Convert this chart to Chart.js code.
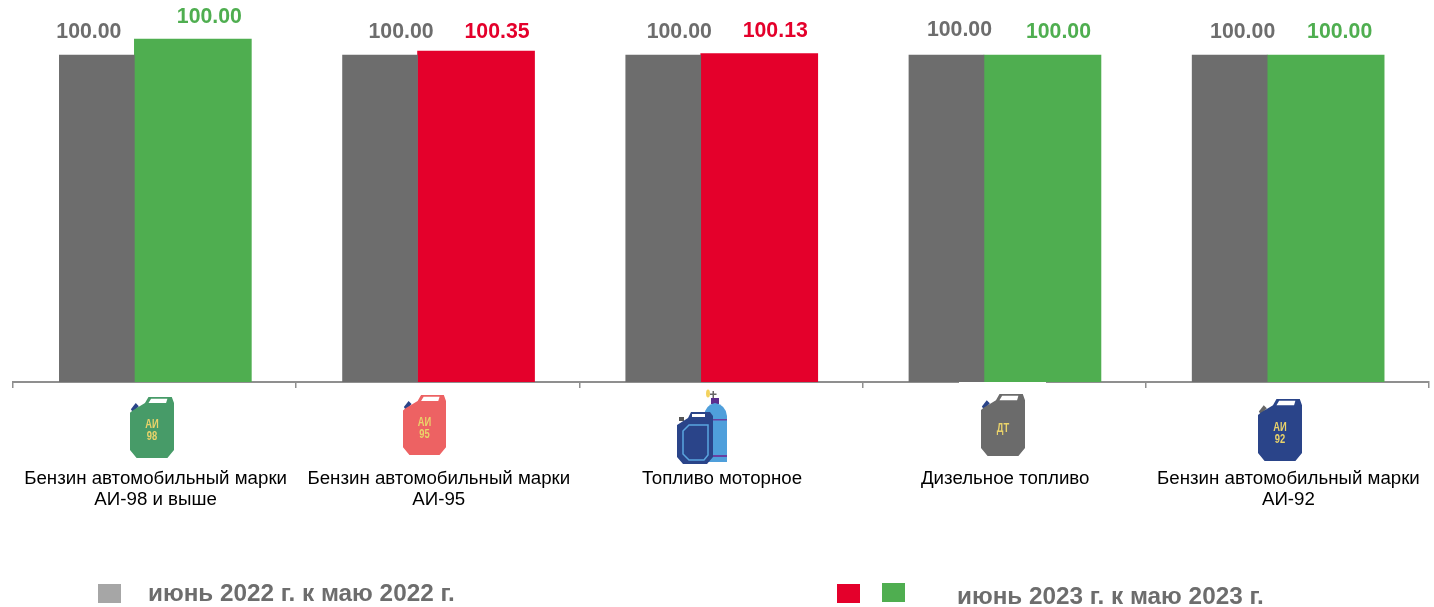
<!DOCTYPE html>
<html><head><meta charset="utf-8">
<style>html,body{margin:0;padding:0;background:#fff}canvas{display:block}</style>
<script src="https://cdn.jsdelivr.net/npm/chart.js@4/dist/chart.umd.js"></script>
</head><body>
<div style="width:1434px;height:607px"><canvas id="c" width="1434" height="607"></canvas></div>
<script>
const categories = [
  ["Бензин автомобильный марки","АИ-98 и выше"],
  ["Бензин автомобильный марки","АИ-95"],
  ["Топливо моторное"],
  ["Дизельное топливо"],
  ["Бензин автомобильный марки","АИ-92"]
];
const series2022 = [100, 100, 100, 100, 100];
const series2023 = [101.4, 100.35, 100.13, 100, 100]; // bar heights as drawn in the picture
const labels2022 = ["100.00","100.00","100.00","100.00","100.00"];
const labels2023 = ["100.00","100.35","100.13","100.00","100.00"];
const colors2023 = ["#4fae50","#e4002b","#e4002b","#4fae50","#4fae50"];
const legend2022 = "июнь 2022 г. к маю 2022 г.";
const legend2023 = "июнь 2023 г. к маю 2023 г.";

const GRAY="#6d6d6d", AXIS="#8f8f8f";
const labelShift2022=[-8,21,16,13,13], labelLift2022=[23,23,23,25,23];
const labelShift2023=[16.5,21,16,16,14], labelLift2023=[22,19,22,23,23];

function canister(ctx,x,y,w,h,body,cap,lines,textY){
  const P=(a,b)=>[x+a*w,y+b*h];
  ctx.fillStyle=cap; ctx.beginPath();
  [[.02,.2],[.13,.1],[.2,.15],[.07,.26]].forEach((p,i)=>{const q=P(p[0],p[1]);i?ctx.lineTo(q[0],q[1]):ctx.moveTo(q[0],q[1]);});
  ctx.closePath(); ctx.fill();
  ctx.fillStyle=body; ctx.beginPath();
  [[0,.26],[.06,.22],[.34,.1],[.42,0],[.95,0],[1,.1],[1,.87],[.85,1],[.15,1],[0,.87]].forEach((p,i)=>{const q=P(p[0],p[1]);i?ctx.lineTo(q[0],q[1]):ctx.moveTo(q[0],q[1]);});
  ctx.closePath(); ctx.fill();
  ctx.fillStyle="#ffffff"; ctx.beginPath();
  [[.48,.03],[.85,.03],[.82,.1],[.42,.1]].forEach((p,i)=>{const q=P(p[0],p[1]);i?ctx.lineTo(q[0],q[1]):ctx.moveTo(q[0],q[1]);});
  ctx.closePath(); ctx.fill();
  ctx.fillStyle="#ead36a"; ctx.font='bold 12px "Liberation Sans",sans-serif';
  ctx.textAlign="center"; ctx.textBaseline="middle";
  lines.forEach((t,i)=>{
    ctx.save(); ctx.translate(x+w/2,y+textY+1+i*12); ctx.scale(.78,1);
    ctx.fillText(t,0,0); ctx.restore();
  });
}
function drawTank(ctx){
  ctx.fillStyle="#f3d25e"; ctx.beginPath(); ctx.ellipse(708,393.5,2,4,0,0,7); ctx.fill();
  ctx.fillStyle="#666"; ctx.fillRect(712.5,391,1.5,8); ctx.fillRect(710,393.5,6.5,1.5);
  ctx.fillStyle="#5b2d8e"; ctx.fillRect(711,398,8,6);
  ctx.fillStyle="#4f9fdb"; ctx.beginPath(); ctx.moveTo(704,462); ctx.lineTo(704,416);
  ctx.quadraticCurveTo(705,405,715,403); ctx.quadraticCurveTo(726,405,727,416); ctx.lineTo(727,462); ctx.closePath(); ctx.fill();
  ctx.fillStyle="#6a3fa0"; ctx.fillRect(704,419,23,1.5); ctx.fillRect(704,455,23,2);
  ctx.fillStyle="#555"; ctx.fillRect(679,417,5,4);
  ctx.fillStyle="#2a4489"; ctx.beginPath();
  [[677,425],[688,418],[691,412],[710,412],[713,416],[713,457],[707,464],[683,464],[677,457]].forEach((p,i)=>i?ctx.lineTo(p[0],p[1]):ctx.moveTo(p[0],p[1]));
  ctx.closePath(); ctx.fill();
  ctx.fillStyle="#fff"; ctx.fillRect(692,414,13,3);
  ctx.strokeStyle="#5aa5df"; ctx.lineWidth=1.5; ctx.beginPath();
  [[683,431],[689,425],[708,425],[708,455],[704,460],[689,460],[683,454]].forEach((p,i)=>i?ctx.lineTo(p[0],p[1]):ctx.moveTo(p[0],p[1]));
  ctx.closePath(); ctx.stroke();
}

const overlay={id:"overlay",
  afterDatasetsDraw(chart){
    const ctx=chart.ctx; ctx.save();
    // gap in the axis line
    ctx.fillStyle="#ffffff"; ctx.fillRect(959,382,87,3);
    // value labels
    ctx.font='bold 21.3px "Liberation Sans",Arial,sans-serif';
    ctx.textAlign="center"; ctx.textBaseline="middle";
    chart.getDatasetMeta(0).data.forEach((b,i)=>{ctx.fillStyle=GRAY;ctx.fillText(labels2022[i],b.x+labelShift2022[i],b.y-labelLift2022[i]);});
    chart.getDatasetMeta(1).data.forEach((b,i)=>{ctx.fillStyle=colors2023[i];ctx.fillText(labels2023[i],b.x+labelShift2023[i],b.y-labelLift2023[i]);});
    // icons
    canister(ctx,130,397,44,61,"#479b68","#2a4489",["АИ","98"],27);
    canister(ctx,403,395,43,60,"#ed6263","#2a4489",["АИ","95"],27);
    drawTank(ctx);
    canister(ctx,981,394,44,62,"#6b6b6b","#2a4489",["ДТ"],34);
    canister(ctx,1258,399,44,62,"#2a4489","#666666",["АИ","92"],28);
    // legend
    ctx.fillStyle="#a6a6a6"; ctx.fillRect(98,584,23,19);
    ctx.fillStyle="#e4002b"; ctx.fillRect(837,584,23,19);
    ctx.fillStyle="#4fae50"; ctx.fillRect(882,583,23,19);
    ctx.fillStyle=GRAY; ctx.font='bold 24.3px "Liberation Sans",Arial,sans-serif';
    ctx.textAlign="left";
    ctx.fillText(legend2022,148,594);
    ctx.fillText(legend2023,957,597);
    ctx.restore();
  }
};

new Chart(document.getElementById("c"),{
  type:"bar",
  data:{
    labels:categories,
    datasets:[
      {data:series2022.map((y,i)=>({x:i,y})),xAxisID:"bx",backgroundColor:GRAY,barThickness:75,borderWidth:0},
      {data:series2023.map((y,i)=>({x:i,y})),xAxisID:"bx",backgroundColor:colors2023,barThickness:117,borderWidth:0}
    ]
  },
  options:{
    responsive:false,animation:false,
    layout:{padding:{left:13,right:5,top:0,bottom:0}},
    plugins:{legend:{display:false},tooltip:{enabled:false}},
    scales:{
      bx:{type:"linear",axis:"x",display:false,offset:false,min:-0.4285,max:4.5715},
      x:{type:"category",position:"bottom",offset:true,
        grid:{drawOnChartArea:false,drawTicks:true,tickLength:6,color:AXIS,lineWidth:1.5,offset:true},
        border:{display:true,color:AXIS,width:2},
        ticks:{autoSkip:false,maxRotation:0,minRotation:0,padding:80,labelOffset:1,color:"#000",
          font:{family:'"Liberation Sans",Arial,sans-serif',size:18.7,lineHeight:1.123}},
        afterFit(s){s.height=225;s.paddingLeft=0;s.paddingRight=0;}
      },
      y:{display:false,min:71.4,max:104.82,grid:{display:false}}
    }
  },
  plugins:[overlay]
});
</script>
</body></html>
